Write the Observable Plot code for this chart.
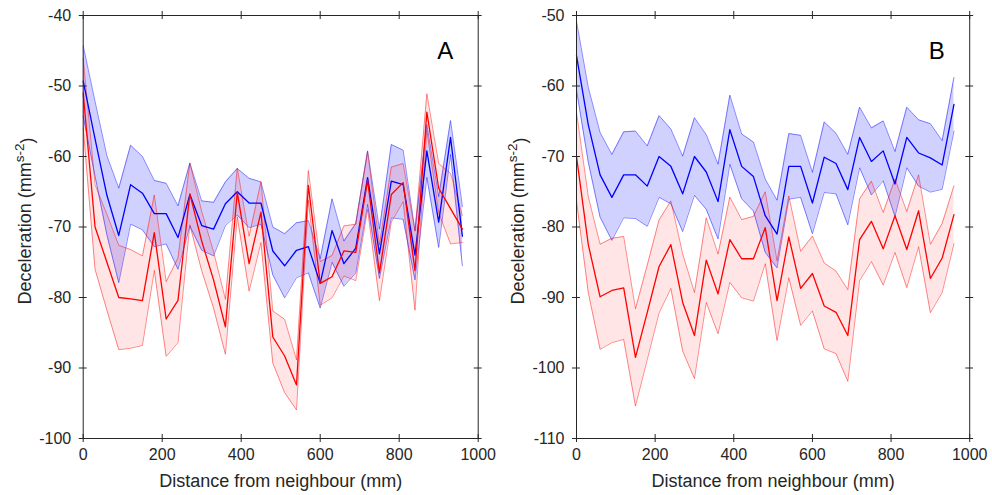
<!DOCTYPE html>
<html><head><meta charset="utf-8">
<script src="https://cdn.jsdelivr.net/npm/d3@7"></script>
<script src="https://cdn.jsdelivr.net/npm/@observablehq/plot@0.6"></script>
<style>
body{margin:0;background:#fff}
#wrap{display:flex;width:992px;height:495px;overflow:hidden}
</style>
</head><body><div id="wrap"></div>
<script>
const distance = [0,30,60,90,120,150,180,210,240,270,300,330,360,390,420,450,480,510,540,570,600,630,660,690,720,750,780,810,840,870,900,930,960];
const xTicks = [0,200,400,600,800,1000];
const yTicksA = [-100,-90,-80,-70,-60,-50,-40];
const yTicksB = [-110,-100,-90,-80,-70,-60,-50];

// Panel A
const blueMeanA = [-49.3,-57.5,-65.5,-71.2,-64.0,-65.2,-68.1,-68.1,-71.5,-65.4,-69.8,-70.3,-66.7,-65.0,-66.6,-66.6,-73.4,-75.5,-73.3,-72.8,-78.0,-70.5,-75.2,-73.0,-63.0,-73.8,-63.5,-64.0,-74.0,-59.2,-69.3,-57.3,-71.3];
const blueErrA  = [5.0,5.3,5.6,6.7,5.6,5.2,4.7,4.3,4.5,4.45,3.5,3.8,3.1,3.3,3.5,3.0,3.4,4.55,3.9,3.7,3.5,4.5,3.2,3.5,3.8,3.5,5.2,4.9,3.5,3.75,3.6,2.4,4.2];
const redMeanA  = [-51.0,-70.0,-75.0,-80.0,-80.2,-80.45,-70.8,-83.05,-80.4,-65.3,-72.0,-77.5,-84.15,-65.1,-75.2,-67.9,-85.6,-88.3,-92.4,-64.1,-78.0,-77.05,-73.4,-73.6,-63.4,-76.5,-65.4,-63.7,-76.2,-53.7,-64.5,-67.4,-70.3];
const redErrA   = [4.9,6.0,6.8,7.4,7.0,6.35,5.35,5.3,6.0,4.4,4.2,4.0,3.9,3.45,3.9,4.3,3.7,5.2,3.55,2.1,3.1,3.0,3.55,4.0,4.1,3.95,3.9,2.7,5.6,2.6,3.5,5.0,1.9];

// Panel B
const blueMeanB = [-55.7,-65.5,-72.6,-75.8,-72.6,-72.6,-74.2,-70.0,-71.4,-75.3,-70.0,-72.2,-76.4,-66.2,-71.4,-72.85,-78.4,-81.0,-71.4,-71.4,-76.6,-70.1,-71.0,-74.7,-67.3,-70.7,-69.2,-73.9,-67.3,-69.5,-70.2,-71.2,-62.6];
const blueErrB  = [4.85,5.3,6.0,6.1,6.1,6.2,5.7,5.8,5.3,5.35,5.5,5.3,5.3,4.9,4.6,4.9,5.2,4.8,4.65,4.4,4.35,5.0,4.3,5.0,4.3,4.75,4.25,4.6,4.3,4.7,4.85,3.45,3.8];
const redMeanB  = [-70.0,-82.5,-89.9,-89.0,-88.65,-98.5,-92.1,-85.6,-82.5,-90.7,-95.4,-84.7,-89.5,-81.8,-84.5,-84.5,-80.1,-90.45,-81.4,-88.7,-86.6,-91.2,-92.1,-95.4,-81.8,-79.2,-83.1,-78.4,-83.2,-77.7,-87.3,-84.4,-78.25];
const redErrB   = [6.3,6.8,7.45,7.4,7.3,6.9,6.7,6.6,6.2,6.9,6.1,6.0,5.65,6.05,5.55,6.0,5.1,5.65,5.8,5.25,5.3,6.1,5.85,6.5,5.8,5.7,5.15,5.2,5.4,5.1,4.85,4.9,4.1];

const axisColor = "#262626";
const font = "'Liberation Sans', Arial, Helvetica, sans-serif";

function panel(cfg) {
  const rows = distance.map((x, i) => ({
    x,
    bm: cfg.blueMean[i], bl: cfg.blueMean[i] - cfg.blueErr[i], bu: cfg.blueMean[i] + cfg.blueErr[i],
    rm: cfg.redMean[i], rl: cfg.redMean[i] - cfg.redErr[i], ru: cfg.redMean[i] + cfg.redErr[i]
  }));
  const tx = 10;    // half tick length in mm
  const ty = 0.57;  // half tick length in y units
  const [y0, y1] = cfg.yDomain;
  const svg = Plot.plot({
    width: 496, height: 495,
    marginTop: 15, marginBottom: 57, marginLeft: cfg.marginLeft, marginRight: cfg.marginRight,
    x: {domain: [0, 1000]},
    y: {domain: cfg.yDomain},
    style: {fontFamily: font, fontSize: "16px", color: axisColor, background: "white", overflow: "visible"},
    marks: [
      Plot.areaY(rows, {x: "x", y1: "bl", y2: "bu", fill: "#0000ff", fillOpacity: 0.18}),
      Plot.areaY(rows, {x: "x", y1: "rl", y2: "ru", fill: "#ff0000", fillOpacity: 0.1}),
      Plot.lineY(rows, {x: "x", y: "bu", stroke: "#0000ff", strokeOpacity: 0.45, strokeWidth: 1}),
      Plot.lineY(rows, {x: "x", y: "bl", stroke: "#0000ff", strokeOpacity: 0.45, strokeWidth: 1}),
      Plot.lineY(rows, {x: "x", y: "ru", stroke: "#ff0000", strokeOpacity: 0.45, strokeWidth: 1}),
      Plot.lineY(rows, {x: "x", y: "rl", stroke: "#ff0000", strokeOpacity: 0.45, strokeWidth: 1}),
      Plot.lineY(rows, {x: "x", y: "bm", stroke: "#0000ff", strokeWidth: 1.3}),
      Plot.lineY(rows, {x: "x", y: "rm", stroke: "#ff0000", strokeWidth: 1.3}),
      Plot.frame({stroke: axisColor, strokeWidth: 1}),
      Plot.ruleY(cfg.yTicks, {y: d => d, x1: () => -tx, x2: () => tx, stroke: axisColor}),
      Plot.ruleY(cfg.yTicks, {y: d => d, x1: () => 1000 - tx, x2: () => 1000 + tx, stroke: axisColor}),
      Plot.ruleX(xTicks, {x: d => d, y1: () => y0 - ty, y2: () => y0 + ty, stroke: axisColor}),
      Plot.ruleX(xTicks, {x: d => d, y1: () => y1 - ty, y2: () => y1 + ty, stroke: axisColor}),
      Plot.axisX({ticks: xTicks, tickSize: 0, tickPadding: 10, label: null, tickFormat: d => String(d)}),
      Plot.axisY({ticks: cfg.yTicks, tickSize: 0, tickPadding: 12, label: null, tickFormat: d => String(d)}),
      Plot.text(["Distance from neighbour (mm)"], {frameAnchor: "bottom", dy: 43, fontSize: 18, lineAnchor: "middle", fill: axisColor}),
      Plot.text([cfg.label], {frameAnchor: "top-right", dx: -33, dy: 36, fontSize: 24, textAnchor: "middle", lineAnchor: "middle", fill: "#000"})
    ]
  });
  // y-axis label with superscript
  const t = d3.select(svg).append("text")
    .attr("transform", `translate(${cfg.labelX},221) rotate(-90)`)
    .attr("text-anchor", "middle")
    .attr("font-family", font)
    .attr("font-size", 18)
    .attr("fill", axisColor);
  t.append("tspan").text("Deceleration (mm");
  t.append("tspan").attr("font-size", 13.5).attr("dy", "-0.5em").text("s-2");
  t.append("tspan").attr("dy", "0.5em").text(")");
  return svg;
}

const wrap = document.getElementById("wrap");
wrap.append(panel({label: "A", blueMean: blueMeanA, blueErr: blueErrA, redMean: redMeanA, redErr: redErrA,
  yDomain: [-100, -40], yTicks: yTicksA, marginLeft: 82.7, marginRight: 18.3, labelX: 31}));
wrap.append(panel({label: "B", blueMean: blueMeanB, blueErr: blueErrB, redMean: redMeanB, redErr: redErrB,
  yDomain: [-110, -50], yTicks: yTicksB, marginLeft: 80, marginRight: 22.8, labelX: 28}));
</script>
</body></html>
